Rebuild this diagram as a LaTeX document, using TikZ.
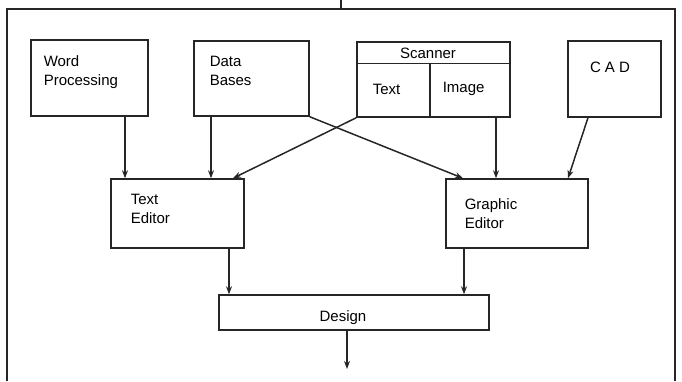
\documentclass[tikz,border=0pt]{standalone}
\usepackage{fontspec}
\setmainfont{Liberation Sans}
\usetikzlibrary{arrows.meta}
\begin{document}
\begin{tikzpicture}[x=1pt,y=-1pt,>={Stealth[length=8pt,width=6pt]},line width=1.5pt,color=black!85,
	box/.style={draw,rectangle,inner sep=0pt},
	txt/.style={anchor=north west,inner sep=0pt,align=left,text=black,font=\fontsize{15}{19}\selectfont},
	ctxt/.style={inner sep=0pt,text=black,font=\fontsize{15}{19}\selectfont}]
	\useasboundingbox (0,0) rectangle (682,381);
							\coordinate (in) at (341,0);
							\coordinate (frametop) at (341,9);
							\draw (7,381) -- (7,9) -- (675,9) -- (675,381);
							\draw (in) -- (frametop);
					\node[box,minimum width=117pt,minimum height=76pt] (wordproc) at (89.5,78) {};
					\node[box,minimum width=115pt,minimum height=75pt] (database) at (251.5,78.5) {};
					\node[box,minimum width=153pt,minimum height=75pt] (scanner) at (433.5,79.5) {};
					\node[box,minimum width=93pt,minimum height=76pt] (cad) at (614.5,79) {};
					\node[box,minimum width=133pt,minimum height=69pt] (texted) at (177.5,213.5) {};
					\node[box,minimum width=142pt,minimum height=69pt] (graphed) at (517,213.5) {};
					\node[box,minimum width=270pt,minimum height=35pt] (design) at (354,312.5) {};
							\coordinate (scandiv) at (430,64);
					\draw ([yshift=-22pt]scanner.north west) -- ([yshift=-22pt]scanner.north east);
					\draw (scandiv) -- (scanner.south -| scandiv);
							\node[txt] (wptext) at (43,55) {Word\\Processing};
							\node[txt] (dbtext) at (209,55) {Data\\Bases};
							\node[ctxt] (scantext) at (428,53) {Scanner};
							\node[txt] (scantxt) at (372,83) {Text};
							\node[txt] (scanimg) at (442,81) {Image};
							\node[ctxt] (cadtext) at (610,67) {C A D};
							\node[txt] (tetext) at (130,193) {Text\\Editor};
							\node[txt] (getext) at (464,198) {Graphic\\Editor};
							\node[ctxt] (destext) at (343,318) {Design};
					\draw[->] (wordproc.south -| 125,0) -- (texted.north -| 125,0);
					\draw[->] (database.south -| 211,0) -- (texted.north -| 211,0);
					\draw[->] (scanner.south west) -- (texted.north -| 233,0);
					\draw[->] (database.south east) -- (graphed.north -| 463,0);
					\draw[->] (scanner.south -| 496,0) -- (graphed.north -| 496,0);
					\draw[->] (cad.south -| 588,0) -- (graphed.north -| 568,0);
					\draw[->] (texted.south -| 229,0) -- (design.north -| 229,0);
					\draw[->] (graphed.south -| 464,0) -- (design.north -| 464,0);
							\coordinate (out) at (347,369);
					\draw[->] (design.south -| out) -- (out);
\end{tikzpicture}
\end{document}
